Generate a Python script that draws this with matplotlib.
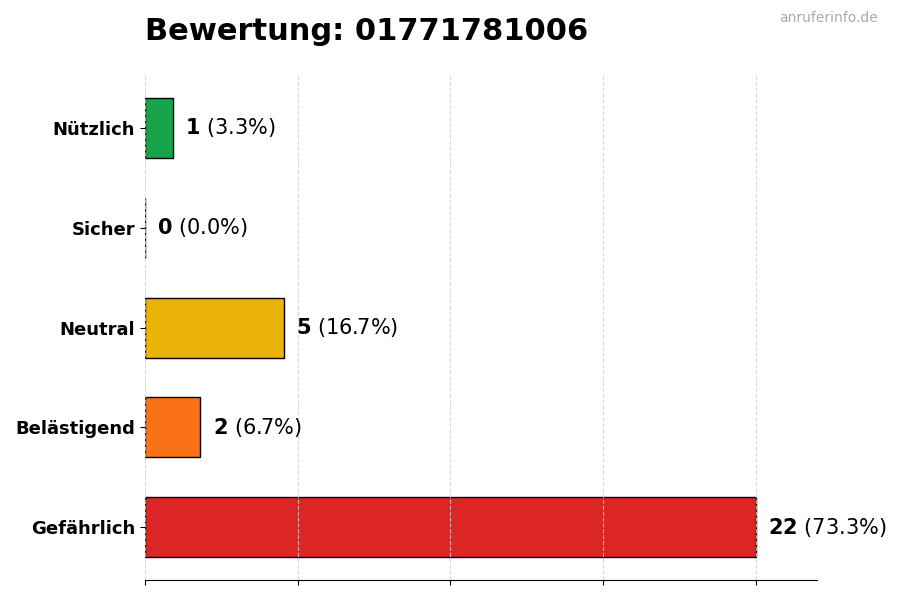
import numpy as np
import matplotlib
matplotlib.use("Agg")
import matplotlib.pyplot as plt

categories = ["Gefährlich", "Belästigend", "Neutral", "Sicher", "Nützlich"]
counts = [22, 2, 5, 0, 1]
colors = ["#dc2626", "#f97316", "#eab308", "#6b7280", "#16a34a"]
phone = "01771781006"

total = sum(counts)
vmax = max(counts)

plt.rcParams["mathtext.fontset"] = "dejavusans"
fig = plt.figure(figsize=(9, 6), dpi=100)
ax = fig.add_axes([0.161, 0.033, 0.747, 0.842])

y = np.arange(len(categories))
ax.barh(y, counts, height=0.6, color=colors, edgecolor="black", linewidth=1, zorder=2)

for yi, c in zip(y, counts):
    pct = c / total * 100
    ax.text(c + vmax * 0.02, yi, r"$\mathbf{%d}$ (%.1f%%)" % (c, pct),
            va="center", ha="left", fontsize=15)

ax.set_yticks(y)
ax.set_yticklabels(categories, fontsize=13, fontweight="bold")
ax.set_xlim(0, vmax * 1.1)
ax.set_xticks(np.linspace(0, vmax, 5))
ax.set_xticklabels([])
ax.set_axisbelow(False)
ax.grid(axis="x", linestyle="--", color="#d0d0d0", linewidth=0.8, alpha=0.8, zorder=3)
for s in ["top", "right", "left"]:
    ax.spines[s].set_visible(False)

fig.text(0.161, 0.947, "Bewertung: " + phone, fontsize=22, fontweight="bold",
         ha="left", va="center")
fig.text(0.975, 0.970, "anruferinfo.de", fontsize=10, color="#aaaaaa",
         ha="right", va="center")

fig.savefig("out.png", dpi=100)
